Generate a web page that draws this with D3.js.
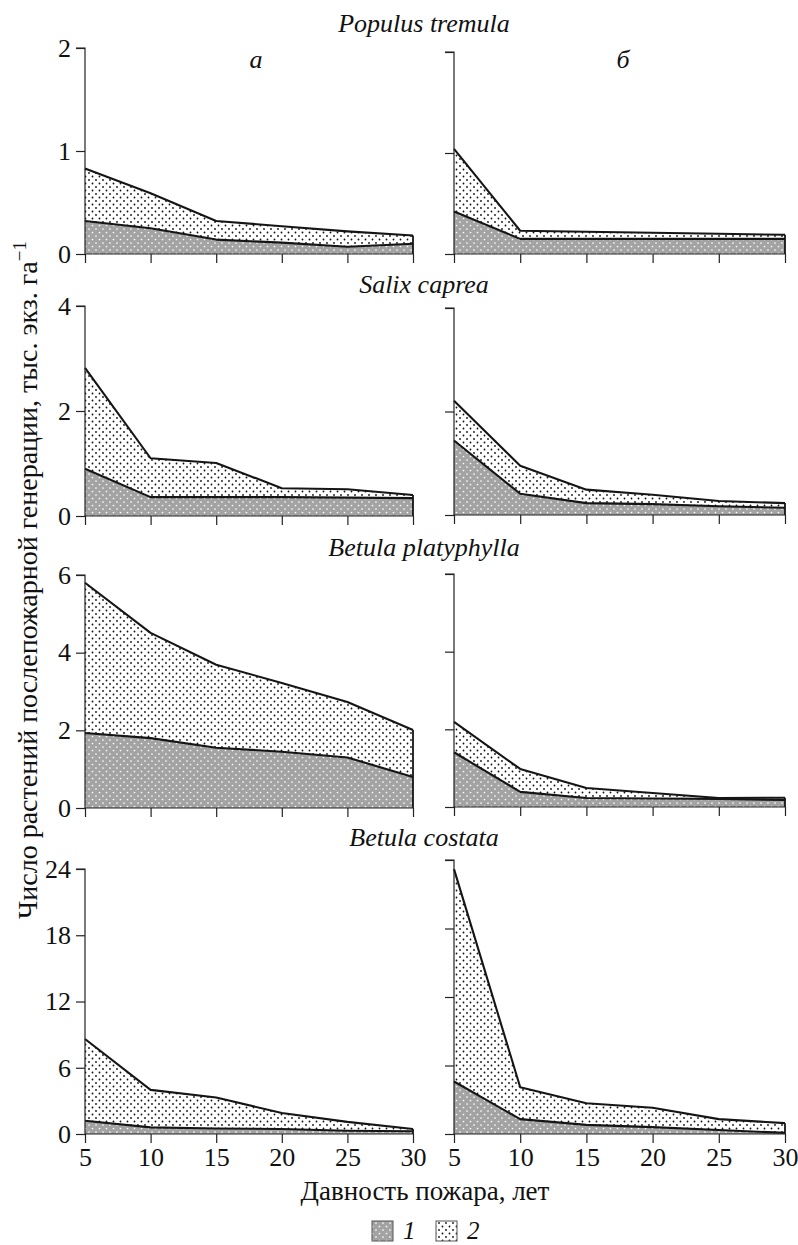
<!DOCTYPE html>
<html><head><meta charset="utf-8">
<script src="https://cdn.jsdelivr.net/npm/d3@7"></script>
</head>
<body style="margin:0;background:#fff">
<script>
// ---------- DATA ----------
const years = [5, 10, 15, 20, 25, 30];
const species = ["Populus tremula", "Salix caprea", "Betula platyphylla", "Betula costata"];
const panelLetters = ["а", "б"];
const yMaxes = [2, 4, 6, 24];
const yTickValues = [[0, 1, 2], [0, 2, 4], [0, 2, 4, 6], [0, 6, 12, 18, 24]];
const xTickLabels = ["5", "10", "15", "20", "25", "30"];
const legendLabels = ["1", "2"];

// layer 1 (grey) and layer 2 (dotted, stacked on layer 1), thousand plants per ha
const populusA1 = [0.32, 0.25, 0.14, 0.11, 0.07, 0.10];
const populusA2 = [0.51, 0.34, 0.18, 0.16, 0.15, 0.08];
const populusB1 = [0.42, 0.15, 0.15, 0.15, 0.15, 0.15];
const populusB2 = [0.62, 0.08, 0.07, 0.06, 0.05, 0.04];
const salixA1 = [0.90, 0.36, 0.36, 0.36, 0.35, 0.34];
const salixA2 = [1.92, 0.74, 0.65, 0.17, 0.16, 0.06];
const salixB1 = [1.44, 0.41, 0.23, 0.21, 0.17, 0.14];
const salixB2 = [0.77, 0.54, 0.26, 0.18, 0.10, 0.09];
const platyA1 = [1.93, 1.80, 1.55, 1.45, 1.30, 0.80];
const platyA2 = [3.87, 2.71, 2.14, 1.77, 1.43, 1.21];
const platyB1 = [1.41, 0.39, 0.23, 0.22, 0.21, 0.18];
const platyB2 = [0.78, 0.59, 0.26, 0.14, 0.02, 0.06];
const costataA1 = [1.2, 0.6, 0.5, 0.45, 0.3, 0.25];
const costataA2 = [7.4, 3.4, 2.8, 1.45, 0.8, 0.2];
const costataB1 = [4.6, 1.3, 0.8, 0.6, 0.35, 0.1];
const costataB2 = [18.6, 2.8, 1.9, 1.7, 0.95, 0.85];

const seriesGrid = [
  [[populusA1, populusA2], [populusB1, populusB2]],
  [[salixA1, salixA2], [salixB1, salixB2]],
  [[platyA1, platyA2], [platyB1, platyB2]],
  [[costataA1, costataA2], [costataB1, costataB2]]
];

// ---------- LAYOUT ----------
const W = 798, H = 1245;
const FS = 26;
const TICK_FS = 26;
const FONT = "Liberation Serif";
const cols = [{x0: 85, x1: 413}, {x0: 454, x1: 785}];
const rows = [
  {zero: [254, 254], top: [48, 52], title: 32},
  {zero: [516, 515], top: [306, 308], title: 293},
  {zero: [808, 807], top: [575, 574], title: 556},
  {zero: [1134, 1134], top: [869, 860], title: 846}
];
const grey = "#a3a3a3";
const ink = "#151515";

const svg = d3.select("body").append("svg").attr("width", W).attr("height", H)
  .style("display", "block");

function txt(sel) {
  return sel.style("font-family", FONT).attr("fill", "#111");
}

// patterns
const defs = svg.append("defs");
const p1 = defs.append("pattern").attr("id", "pat1").attr("patternUnits", "userSpaceOnUse")
  .attr("width", 7).attr("height", 7);
p1.append("rect").attr("width", 7).attr("height", 7).attr("fill", grey);
[[1.5, 1.5], [5, 5]].forEach(([cx, cy]) => p1.append("circle").attr("cx", cx).attr("cy", cy).attr("r", 0.85).attr("fill", "#fff"));
const p2 = defs.append("pattern").attr("id", "pat2").attr("patternUnits", "userSpaceOnUse")
  .attr("width", 7).attr("height", 7);
p2.append("rect").attr("width", 7).attr("height", 7).attr("fill", "#fff");
[[1.5, 1.5], [5, 5]].forEach(([cx, cy]) => p2.append("circle").attr("cx", cx).attr("cy", cy).attr("r", 0.9).attr("fill", "#111"));

const fills = ["url(#pat1)", "url(#pat2)"];

seriesGrid.forEach((rowSeries, ri) => {
  const row = rows[ri];
  txt(svg.append("text").attr("x", 424).attr("y", row.title).attr("text-anchor", "middle")
    .attr("font-size", FS).attr("font-style", "italic")).text(species[ri]);

  rowSeries.forEach((pair, ci) => {
    const col = cols[ci];
    const x = d3.scaleLinear().domain([5, 30]).range([col.x0, col.x1]);
    const y = d3.scaleLinear().domain([0, yMaxes[ri]]).range([row.zero[ci], row.top[ci]]);
    const g = svg.append("g");

    const table = years.map((yr, i) => ({year: yr, s1: pair[0][i], s2: pair[1][i]}));
    const stacked = d3.stack().keys(["s1", "s2"])(table);

    const area = d3.area().x(d => x(d.data.year)).y0(d => y(d[0])).y1(d => y(d[1]));
    stacked.forEach((layer, li) => {
      g.append("path").datum(layer).attr("d", area).attr("fill", fills[li]).attr("stroke", "none");
    });
    const line = d3.line().x(d => x(d.data.year)).y(d => y(d[1]));
    stacked.forEach(layer => {
      g.append("path").datum(layer).attr("d", line).attr("fill", "none")
        .attr("stroke", ink).attr("stroke-width", 2.1).attr("stroke-linejoin", "round");
    });
    const last = stacked[1][stacked[1].length - 1];
    g.append("line").attr("x1", x(30)).attr("x2", x(30)).attr("y1", y(0)).attr("y2", y(last[1]))
      .attr("stroke", ink).attr("stroke-width", 1.8);

    const yAxis = d3.axisLeft(y).tickValues(yTickValues[ri]).tickSize(9).tickPadding(5)
      .tickFormat(ci === 0 ? d3.format("d") : () => "");
    const ya = g.append("g").attr("transform", `translate(${col.x0},0)`).call(yAxis);
    const xAxis = d3.axisBottom(x).tickValues(years).tickSize(9).tickPadding(5)
      .tickFormat(ri === 3 ? (d, i) => xTickLabels[i] : () => "");
    const xa = g.append("g").attr("transform", `translate(0,${row.zero[ci]})`).call(xAxis);
    [ya, xa].forEach(a => {
      a.attr("font-family", FONT).attr("font-size", TICK_FS);
      a.select(".domain").attr("stroke", "#222").attr("stroke-width", 1.2);
      a.selectAll(".tick line").attr("stroke", "#222").attr("stroke-width", 1.2);
      txt(a.selectAll(".tick text").attr("font-size", TICK_FS));
    });
    ya.select(".domain").attr("d", `M-9,${y(yMaxes[ri])}H0V${y(0)}`);
    xa.select(".domain").attr("d", `M${x(5)},0H${x(30)}`);
  });
});

// panel letters
txt(svg.append("text").attr("x", 256).attr("y", 68).attr("text-anchor", "middle")
  .attr("font-size", FS).attr("font-style", "italic")).text(panelLetters[0]);
txt(svg.append("text").attr("x", 623).attr("y", 68).attr("text-anchor", "middle")
  .attr("font-size", FS).attr("font-style", "italic")).text(panelLetters[1]);

// y label
const yl = txt(svg.append("text").attr("transform", "translate(37,580) rotate(-90)")
  .attr("text-anchor", "middle").attr("font-size", 28));
yl.append("tspan").text("Число растений послепожарной генерации, тыс. экз. га");
yl.append("tspan").attr("dy", -11).attr("font-size", 19).text("−1");

// x label
txt(svg.append("text").attr("x", 425).attr("y", 1200).attr("text-anchor", "middle")
  .attr("font-size", 27)).text("Давность пожара, лет");

// legend
const legX = [372, 436];
legendLabels.forEach((lab, i) => {
  svg.append("rect").attr("x", legX[i]).attr("y", 1221).attr("width", 21).attr("height", 20)
    .attr("fill", fills[i]).attr("stroke", "#555").attr("stroke-width", 1);
  txt(svg.append("text").attr("x", legX[i] + 31).attr("y", 1239).attr("font-size", 25)
    .attr("font-style", "italic")).text(lab);
});
</script>
</body></html>
